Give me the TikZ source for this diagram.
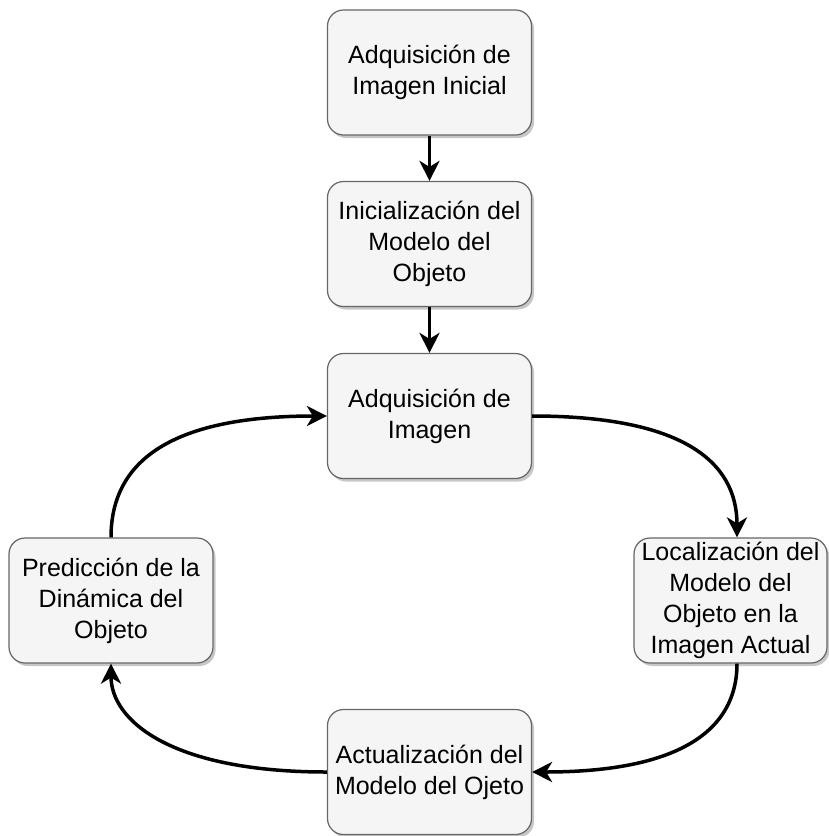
\documentclass[tikz,border=0pt]{standalone}
\usepackage{fontspec}
\setmainfont{Liberation Sans}
\usetikzlibrary{arrows.meta,shadows}
\definecolor{boxfill}{HTML}{F5F5F5}
\definecolor{boxline}{HTML}{666666}
\tikzset{
  box/.style={draw=boxline, fill=boxfill, rounded corners=16pt, line width=1.2pt,
    minimum width=204pt, minimum height=125pt, align=center, inner sep=0pt,
    font=\fontsize{25}{31}\selectfont,
    drop shadow={shadow xshift=2.5pt, shadow yshift=-3pt, fill=black, opacity=0.22}},
  conn/.style={line width=3.5pt, -{Stealth[length=20pt,width=20pt,inset=6pt]}}
}
\begin{document}
\begin{tikzpicture}[x=1pt,y=-1pt]
\useasboundingbox (0,0) rectangle (828,836);
\node[box] (ini) at (429.5,72.5) {Adquisición de\\Imagen Inicial};
\node[box] (mod) at (429.5,244) {Inicialización del\\Modelo del\\Objeto};
\node[box] (img) at (429.5,416) {Adquisición de\\Imagen};
\node[box] (pred) at (111,600.5) {Predicción de la\\Dinámica del\\Objeto};
\node[box, minimum width=193pt] (loc) at (730.5,600.5) {Localización del\\Modelo del\\Objeto en la\\Imagen Actual};
\node[box] (act) at (429.5,772) {Actualización del\\Modelo del Ojeto};
\draw[conn] (ini) -- (mod);
\draw[conn] (mod) -- (img);
\draw[conn] (img.east) .. controls (680,416) and (737,460) .. ([xshift=6.5pt]loc.north);
\draw[conn] ([xshift=6.5pt]loc.south) .. controls (737,730) and (680,772) .. (act.east);
\draw[conn] (act.west) .. controls (170,772) and (111,720) .. (pred.south);
\draw[conn] (pred.north) .. controls (111,465) and (165,416) .. (img.west);
\end{tikzpicture}
\end{document}
